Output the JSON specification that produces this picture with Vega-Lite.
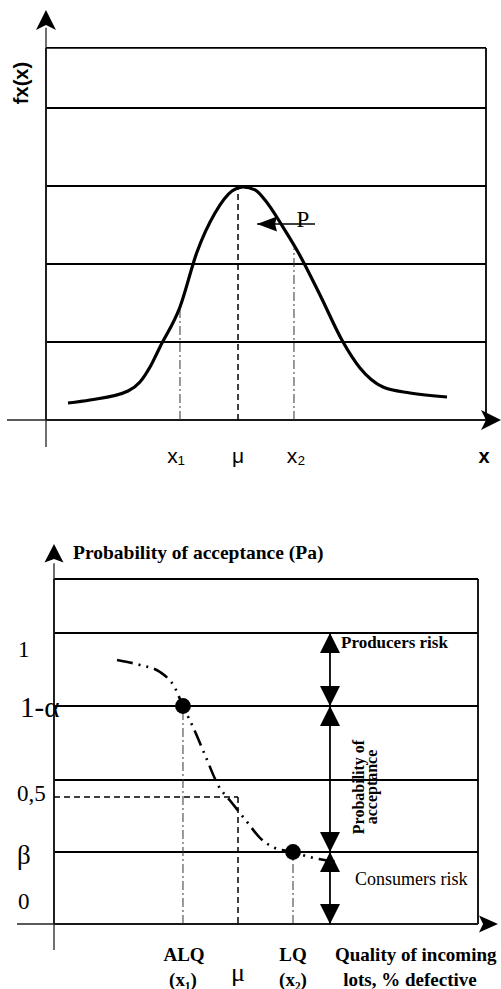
{
  "$schema": "https://vega.github.io/schema/vega-lite/v6.json",
  "padding": 0,
  "spacing": 0,
  "background": "white",
  "config": {"view": {"stroke": null}, "concat": {"spacing": 0}},
  "resolve": {"scale": {"shape": "independent"}},
  "datasets": {
    "topBox": [
      {"x": 0, "x2": 10, "y": 4.77, "y2": 4.77},
      {"x": 0, "x2": 10, "y": 4, "y2": 4},
      {"x": 0, "x2": 10, "y": 3, "y2": 3},
      {"x": 0, "x2": 10, "y": 2, "y2": 2},
      {"x": 0, "x2": 10, "y": 1, "y2": 1},
      {"x": 0, "x2": 10, "y": 0, "y2": 0},
      {"x": 0, "x2": 0, "y": 0, "y2": 4.77},
      {"x": 10, "x2": 10, "y": 0, "y2": 4.77}
    ],
    "topAxes": [
      {"x": 0, "x2": 0, "y": -0.346, "y2": 5.03},
      {"x": -0.886, "x2": 10.0, "y": 0, "y2": 0}
    ],
    "topArrows": [
      {"x": 0, "y": 5.128, "dir": "up"},
      {"x": 10.114, "y": 0, "dir": "right"},
      {"x": 5.023, "y": 2.513, "dir": "left"}
    ],
    "topPLine": [{"x": 4.8, "x2": 6.114, "y": 2.513, "y2": 2.513}],
    "topCurve": [
      {"x": 0.5, "y": 0.218}, {"x": 1.0, "y": 0.256}, {"x": 1.864, "y": 0.372},
      {"x": 2.136, "y": 0.487}, {"x": 2.364, "y": 0.679}, {"x": 2.591, "y": 0.936},
      {"x": 3.045, "y": 1.449}, {"x": 3.432, "y": 2.154}, {"x": 3.841, "y": 2.654},
      {"x": 4.227, "y": 2.936}, {"x": 4.477, "y": 2.987}, {"x": 4.75, "y": 2.95},
      {"x": 4.977, "y": 2.821}, {"x": 5.386, "y": 2.474}, {"x": 5.727, "y": 2.154},
      {"x": 6.227, "y": 1.603}, {"x": 6.75, "y": 1.0}, {"x": 7.136, "y": 0.667},
      {"x": 7.659, "y": 0.423}, {"x": 8.273, "y": 0.346}, {"x": 9.114, "y": 0.295}
    ],
    "topMu": [{"x": 4.364, "x2": 4.364, "y": 0, "y2": 2.974}],
    "topCrit": [
      {"x": 3.045, "x2": 3.045, "y": 0, "y2": 1.449},
      {"x": 5.636, "x2": 5.636, "y": 0, "y2": 2.2}
    ],
    "topLabels": [
      {"x": 2.955, "y": -0.474, "text": "x₁"},
      {"x": 4.364, "y": -0.474, "text": "μ"},
      {"x": 5.682, "y": -0.474, "text": "x₂"}
    ],
    "topBold": [{"x": 9.955, "y": -0.474, "text": "x"}],
    "topYTitle": [{"x": -0.545, "y": 4.32, "text": "fx(x)"}],
    "topP": [{"x": 5.841, "y": 2.564, "text": "P"}],
    "botBox": [
      {"x": 0, "x2": 10, "y": 1.1856, "y2": 1.1856},
      {"x": 0, "x2": 10, "y": 1.0, "y2": 1.0},
      {"x": 0, "x2": 10, "y": 0.7491, "y2": 0.7491},
      {"x": 0, "x2": 10, "y": 0.4948, "y2": 0.4948},
      {"x": 0, "x2": 10, "y": 0.2474, "y2": 0.2474},
      {"x": 0, "x2": 10, "y": 0, "y2": 0},
      {"x": 0, "x2": 0, "y": 0, "y2": 1.1856},
      {"x": 10, "x2": 10, "y": 0, "y2": 1.1856}
    ],
    "botAxes": [
      {"x": 0, "x2": 0, "y": -0.0893, "y2": 1.24},
      {"x": -0.873, "x2": 10.0, "y": 0, "y2": 0}
    ],
    "botArrows": [
      {"x": 0, "y": 1.2715, "dir": "axisUp"},
      {"x": 10.236, "y": 0, "dir": "axisRight"},
      {"x": 6.509, "y": 0.9656, "dir": "up"},
      {"x": 6.509, "y": 0.7835, "dir": "down"},
      {"x": 6.509, "y": 0.7148, "dir": "up"},
      {"x": 6.509, "y": 0.2818, "dir": "down"},
      {"x": 6.509, "y": 0.2131, "dir": "up"},
      {"x": 6.509, "y": 0.0344, "dir": "down"}
    ],
    "botRiskLine": [{"x": 6.509, "x2": 6.509, "y": 0, "y2": 1.0}],
    "botHalf": [
      {"x": 0, "x2": 4.34, "y": 0.4364, "y2": 0.4364},
      {"x": 4.34, "x2": 4.34, "y": 0.4364, "y2": 0}
    ],
    "botCrit": [
      {"x": 3.042, "x2": 3.042, "y": 0, "y2": 0.7491},
      {"x": 5.637, "x2": 5.637, "y": 0, "y2": 0.2474}
    ],
    "botPoints": [{"x": 3.042, "y": 0.7491}, {"x": 5.637, "y": 0.2474}],
    "botCurve": [
      {"x": 1.486, "y": 0.907}, {"x": 2.028, "y": 0.89}, {"x": 2.5, "y": 0.866},
      {"x": 2.854, "y": 0.811}, {"x": 3.042, "y": 0.749}, {"x": 3.278, "y": 0.677},
      {"x": 3.561, "y": 0.581}, {"x": 3.868, "y": 0.478}, {"x": 4.198, "y": 0.416},
      {"x": 4.552, "y": 0.351}, {"x": 4.858, "y": 0.296}, {"x": 5.212, "y": 0.261},
      {"x": 5.637, "y": 0.247}, {"x": 6.038, "y": 0.23}, {"x": 6.745, "y": 0.213}
    ],
    "botTitle": [{"x": 0.448, "y": 1.275, "text": "Probability of acceptance (Pa)"}],
    "botProducer": [{"x": 6.769, "y": 0.9656, "text": "Producers risk"}],
    "botConsumer": [{"x": 7.099, "y": 0.1512, "text": "Consumers risk"}],
    "botPaText": [
      {"x": 7.193, "y": 0.4708, "text": "Probability of"},
      {"x": 7.5, "y": 0.4708, "text": "acceptance"}
    ],
    "botY22": [
      {"x": -0.849, "y": 0.9416, "text": "1"},
      {"x": -0.873, "y": 0.4467, "text": "0,5"},
      {"x": -0.849, "y": 0.0756, "text": "0"}
    ],
    "botY29": [{"x": -0.802, "y": 0.7423, "text": "1-α"}],
    "botY26": [{"x": -0.873, "y": 0.2337, "text": "β"}],
    "botXLabels": [
      {"x": 3.066, "y": -0.1065, "text": "ALQ"},
      {"x": 5.637, "y": -0.1065, "text": "LQ"},
      {"x": 3.042, "y": -0.1924, "text": "(x₁)"},
      {"x": 5.637, "y": -0.1924, "text": "(x₂)"},
      {"x": 8.396, "y": -0.1924, "text": "lots, % defective"}
    ],
    "botXLeft": [{"x": 6.627, "y": -0.1065, "text": "Quality of incoming"}],
    "botMu": [{"x": 4.34, "y": -0.17, "text": "μ"}]
  },
  "vconcat": [
    {
      "width": 501,
      "height": 490,
      "encoding": {
        "x": {"field": "x", "type": "quantitative", "scale": {"domain": [-1.04545, 10.34091], "nice": false, "zero": false}, "axis": null},
        "y": {"field": "y", "type": "quantitative", "scale": {"domain": [-0.89744, 5.38462], "nice": false, "zero": false}, "axis": null}
      },
      "layer": [
        {"data": {"name": "topBox"}, "mark": {"type": "rule", "color": "black", "strokeWidth": 1.8},
         "encoding": {"x2": {"field": "x2"}, "y2": {"field": "y2"}}},
        {"data": {"name": "topAxes"}, "mark": {"type": "rule", "color": "#222", "strokeWidth": 1.3},
         "encoding": {"x2": {"field": "x2"}, "y2": {"field": "y2"}}},
        {"data": {"name": "topMu"}, "mark": {"type": "rule", "color": "black", "strokeWidth": 1.5, "strokeDash": [6, 4]},
         "encoding": {"x2": {"field": "x2"}, "y2": {"field": "y2"}}},
        {"data": {"name": "topCrit"}, "mark": {"type": "rule", "color": "#333", "strokeWidth": 1, "strokeDash": [9, 3, 2, 3]},
         "encoding": {"x2": {"field": "x2"}, "y2": {"field": "y2"}}},
        {"data": {"name": "topPLine"}, "mark": {"type": "rule", "color": "black", "strokeWidth": 1.5},
         "encoding": {"x2": {"field": "x2"}, "y2": {"field": "y2"}}},
        {"data": {"name": "topCurve"}, "mark": {"type": "line", "color": "black", "strokeWidth": 3.2, "interpolate": "monotone"},
         "encoding": {}},
        {"data": {"name": "topArrows"}, "mark": {"type": "point", "filled": true, "color": "black", "opacity": 1, "size": 400},
         "encoding": {"shape": {"field": "dir", "type": "nominal", "legend": null,
           "scale": {"domain": ["up", "right", "left"], "range": ["M0,-1L1,1L0,0.5L-1,1Z", "M1,0L-1,-1L-0.5,0L-1,1Z", "M-1,0L1,-0.75L0.8,0L1,0.75Z"]}}}},
        {"data": {"name": "topLabels"}, "mark": {"type": "text", "font": "Liberation Sans, DejaVu Sans", "fontSize": 21, "align": "center", "baseline": "middle", "color": "black"},
         "encoding": {"text": {"field": "text"}}},
        {"data": {"name": "topBold"}, "mark": {"type": "text", "font": "Liberation Sans", "fontSize": 20, "fontWeight": "bold", "align": "center", "baseline": "middle", "color": "black"},
         "encoding": {"text": {"field": "text"}}},
        {"data": {"name": "topYTitle"}, "mark": {"type": "text", "font": "Liberation Sans", "fontSize": 20, "fontWeight": "bold", "angle": 270, "align": "center", "baseline": "middle", "color": "black"},
         "encoding": {"text": {"field": "text"}}},
        {"data": {"name": "topP"}, "mark": {"type": "text", "font": "Liberation Serif", "fontSize": 23, "align": "center", "baseline": "middle", "color": "black"},
         "encoding": {"text": {"field": "text"}}}
      ]
    },
    {
      "width": 501,
      "height": 499,
      "encoding": {
        "x": {"field": "x", "type": "quantitative", "scale": {"domain": [-1.2736, 10.5425], "nice": false, "zero": false}, "axis": null},
        "y": {"field": "y", "type": "quantitative", "scale": {"domain": [-0.22337, 1.49141], "nice": false, "zero": false}, "axis": null}
      },
      "layer": [
        {"data": {"name": "botBox"}, "mark": {"type": "rule", "color": "black", "strokeWidth": 1.8},
         "encoding": {"x2": {"field": "x2"}, "y2": {"field": "y2"}}},
        {"data": {"name": "botAxes"}, "mark": {"type": "rule", "color": "#222", "strokeWidth": 1.3},
         "encoding": {"x2": {"field": "x2"}, "y2": {"field": "y2"}}},
        {"data": {"name": "botRiskLine"}, "mark": {"type": "rule", "color": "black", "strokeWidth": 1.8},
         "encoding": {"x2": {"field": "x2"}, "y2": {"field": "y2"}}},
        {"data": {"name": "botHalf"}, "mark": {"type": "rule", "color": "black", "strokeWidth": 1.5, "strokeDash": [6, 4]},
         "encoding": {"x2": {"field": "x2"}, "y2": {"field": "y2"}}},
        {"data": {"name": "botCrit"}, "mark": {"type": "rule", "color": "#333", "strokeWidth": 1, "strokeDash": [9, 3, 2, 3]},
         "encoding": {"x2": {"field": "x2"}, "y2": {"field": "y2"}}},
        {"data": {"name": "botCurve"}, "mark": {"type": "line", "color": "black", "strokeWidth": 2.6, "interpolate": "monotone", "strokeDash": [16, 6, 2, 6, 2, 6]},
         "encoding": {}},
        {"data": {"name": "botPoints"}, "mark": {"type": "point", "shape": "circle", "filled": true, "color": "black", "opacity": 1, "size": 250},
         "encoding": {}},
        {"data": {"name": "botArrows"}, "mark": {"type": "point", "filled": true, "color": "black", "opacity": 1, "size": 400},
         "encoding": {"shape": {"field": "dir", "type": "nominal", "legend": null,
           "scale": {"domain": ["axisUp", "axisRight", "up", "down"], "range": ["M0,-1L0.95,0.85L0,0.5L-0.95,0.85Z", "M1,0L-0.9,-0.85L-0.5,0L-0.9,0.85Z", "M0,-1L1,1L-1,1Z", "M0,1L1,-1L-1,-1Z"]}}}},
        {"data": {"name": "botTitle"}, "mark": {"type": "text", "font": "Liberation Serif", "fontSize": 19.5, "fontWeight": "bold", "align": "left", "baseline": "middle", "color": "black"},
         "encoding": {"text": {"field": "text"}}},
        {"data": {"name": "botProducer"}, "mark": {"type": "text", "font": "Liberation Serif", "fontSize": 17, "fontWeight": "bold", "align": "left", "baseline": "middle", "color": "black"},
         "encoding": {"text": {"field": "text"}}},
        {"data": {"name": "botConsumer"}, "mark": {"type": "text", "font": "Liberation Serif", "fontSize": 18, "align": "left", "baseline": "middle", "color": "black"},
         "encoding": {"text": {"field": "text"}}},
        {"data": {"name": "botPaText"}, "mark": {"type": "text", "font": "Liberation Serif", "fontSize": 16, "fontWeight": "bold", "angle": 270, "align": "center", "baseline": "middle", "color": "black"},
         "encoding": {"text": {"field": "text"}}},
        {"data": {"name": "botY22"}, "mark": {"type": "text", "font": "Liberation Serif", "fontSize": 23, "align": "left", "baseline": "middle", "color": "black"},
         "encoding": {"text": {"field": "text"}}},
        {"data": {"name": "botY29"}, "mark": {"type": "text", "font": "Liberation Serif", "fontSize": 29, "align": "left", "baseline": "middle", "color": "black"},
         "encoding": {"text": {"field": "text"}}},
        {"data": {"name": "botY26"}, "mark": {"type": "text", "font": "Liberation Serif", "fontSize": 27, "align": "left", "baseline": "middle", "color": "black"},
         "encoding": {"text": {"field": "text"}}},
        {"data": {"name": "botXLabels"}, "mark": {"type": "text", "font": "Liberation Serif, DejaVu Serif", "fontSize": 19, "fontWeight": "bold", "align": "center", "baseline": "middle", "color": "black"},
         "encoding": {"text": {"field": "text"}}},
        {"data": {"name": "botXLeft"}, "mark": {"type": "text", "font": "Liberation Serif", "fontSize": 19, "fontWeight": "bold", "align": "left", "baseline": "middle", "color": "black"},
         "encoding": {"text": {"field": "text"}}},
        {"data": {"name": "botMu"}, "mark": {"type": "text", "font": "Liberation Serif", "fontSize": 26, "align": "center", "baseline": "middle", "color": "black"},
         "encoding": {"text": {"field": "text"}}}
      ]
    }
  ]
}
